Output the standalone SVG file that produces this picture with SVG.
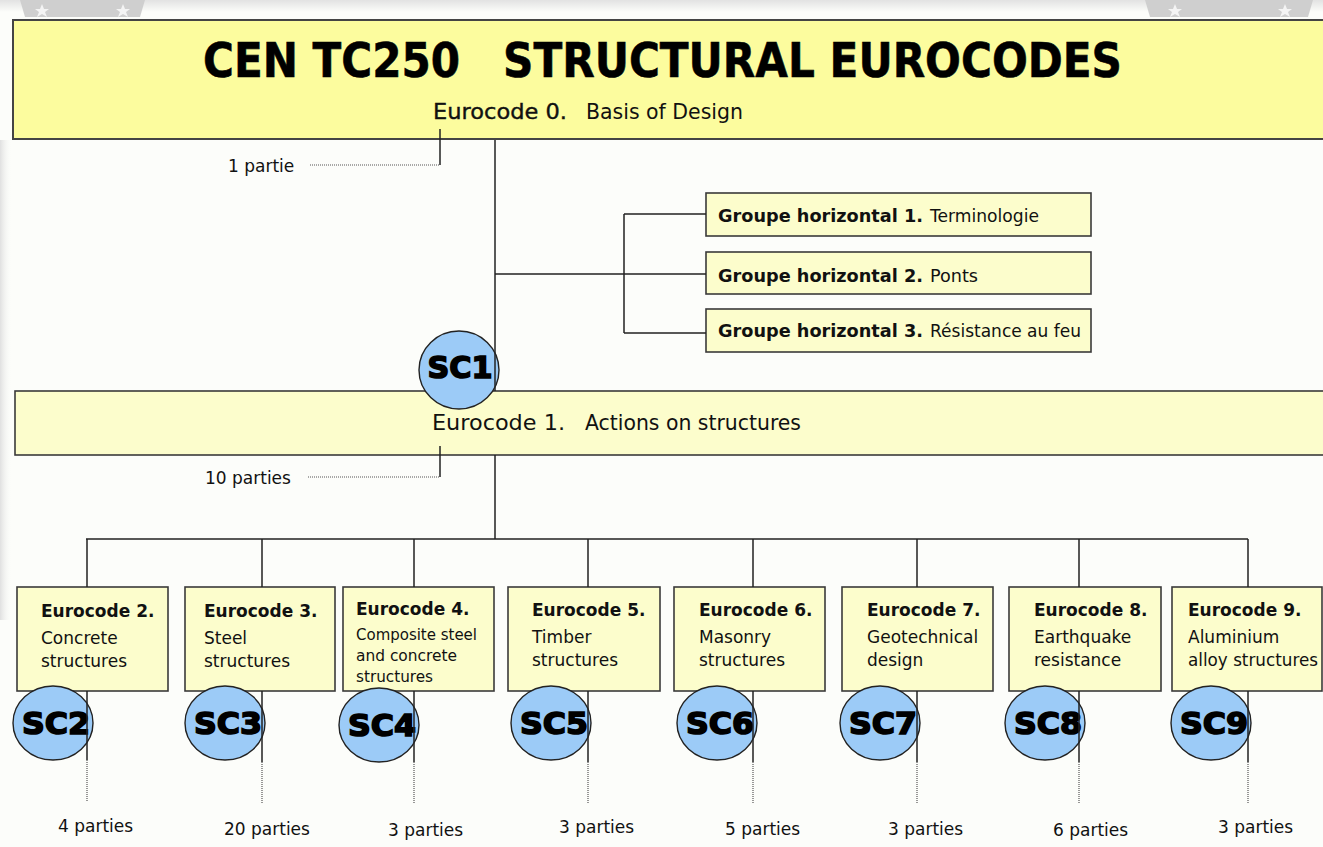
<svg xmlns="http://www.w3.org/2000/svg" width="1323" height="847" viewBox="0 0 1323 847">
<defs>
<linearGradient id="topfade" x1="0" y1="0" x2="0" y2="1">
<stop offset="0" stop-color="#e2e2e2"/>
<stop offset="1" stop-color="#fcfdfa"/>
</linearGradient>
<linearGradient id="leftfade" x1="0" y1="0" x2="1" y2="0">
<stop offset="0" stop-color="#e0e0e0"/>
<stop offset="1" stop-color="#fcfdfa" stop-opacity="0"/>
</linearGradient>
<style>
.box{fill:#fcfdcc;stroke:#3a3a3a;stroke-width:1.6}
.top{fill:#fcfc9e;stroke:#444;stroke-width:2}
.sc{fill:#9ccbf7;stroke:#222;stroke-width:1.4}
.sct{font-family:"DejaVu Sans",sans-serif;font-weight:bold;font-size:30px;fill:#000;stroke:#000;stroke-width:1.6;text-anchor:middle}
.b{font-family:"DejaVu Sans",sans-serif;font-weight:bold;font-size:17px;fill:#111}
.r{font-family:"DejaVu Sans",sans-serif;font-size:17px;fill:#111}
.s{font-family:"DejaVu Sans",sans-serif;font-size:16px;fill:#111}
.ln{fill:none;stroke:#222;stroke-width:1.5}
.dot{fill:none;stroke:#555;stroke-width:1.2;stroke-dasharray:1 1}
.deco{fill:#cfcfcf}
.star{fill:#f4f4f4}
</style>
</defs>
<rect x="0" y="0" width="1323" height="847" fill="#fcfdfa"/>
<rect x="0" y="0" width="1323" height="12" fill="url(#topfade)"/>
<rect x="0" y="140" width="12" height="480" fill="url(#leftfade)"/>
<polygon class="deco" points="20,0 145,0 140,17 25,17"/>
<polygon class="deco" points="1145,0 1313,0 1308,17 1150,17"/>
<polygon class="star" points="42,4 44,9 49,9 45,12 47,17 42,14 37,17 39,12 35,9 40,9"/>
<polygon class="star" points="123,4 125,9 130,9 126,12 128,17 123,14 118,17 120,12 116,9 121,9"/>
<polygon class="star" points="1175,4 1177,9 1182,9 1178,12 1180,17 1175,14 1170,17 1172,12 1168,9 1173,9"/>
<polygon class="star" points="1285,4 1287,9 1292,9 1288,12 1290,17 1285,14 1280,17 1282,12 1278,9 1283,9"/>

<g id="ec0">
<rect class="top" x="13" y="20" width="1320" height="119"/>
<text x="203" y="77" font-family="DejaVu Sans, sans-serif" font-weight="bold" font-size="48" fill="#000" stroke="#000" stroke-width="0.6" textLength="257" lengthAdjust="spacingAndGlyphs">CEN TC250</text>
<text x="503" y="77" font-family="DejaVu Sans, sans-serif" font-weight="bold" font-size="48" fill="#000" stroke="#000" stroke-width="0.6" textLength="619" lengthAdjust="spacingAndGlyphs">STRUCTURAL EUROCODES</text>
<text x="433" y="119" font-family="DejaVu Sans, sans-serif" font-size="22" fill="#111" stroke="#111" stroke-width="0.4" textLength="134" lengthAdjust="spacingAndGlyphs">Eurocode 0.</text>
<text x="586" y="119" font-family="DejaVu Sans, sans-serif" font-size="22" fill="#111" textLength="157" lengthAdjust="spacingAndGlyphs">Basis of Design</text>
</g>

<g id="ec1">
<rect class="box" x="15" y="391" width="1320" height="64"/>
<text x="432" y="430" font-family="DejaVu Sans, sans-serif" font-size="21" fill="#111" textLength="133" lengthAdjust="spacingAndGlyphs">Eurocode 1.</text>
<text x="585" y="430" font-family="DejaVu Sans, sans-serif" font-size="21" fill="#111" textLength="216" lengthAdjust="spacingAndGlyphs">Actions on structures</text>
</g>

<g id="hg1">
<rect class="box" x="706" y="193" width="385" height="43"/>
<text class="b" x="718" y="222" textLength="205" lengthAdjust="spacingAndGlyphs">Groupe horizontal 1.</text>
<text class="r" x="930" y="222" textLength="109" lengthAdjust="spacingAndGlyphs">Terminologie</text>
</g>
<g id="hg2">
<rect class="box" x="706" y="252" width="385" height="42"/>
<text class="b" x="718" y="282" textLength="205" lengthAdjust="spacingAndGlyphs">Groupe horizontal 2.</text>
<text class="r" x="930" y="282" textLength="48" lengthAdjust="spacingAndGlyphs">Ponts</text>
</g>
<g id="hg3">
<rect class="box" x="706" y="309" width="385" height="43"/>
<text class="b" x="718" y="337" textLength="205" lengthAdjust="spacingAndGlyphs">Groupe horizontal 3.</text>
<text class="r" x="930" y="337" textLength="151" lengthAdjust="spacingAndGlyphs">Résistance au feu</text>
</g>

<g id="sc1">
<ellipse class="sc" cx="459" cy="370" rx="40" ry="39"/>
<text class="sct" x="460" y="378" font-size="29" textLength="65" lengthAdjust="spacingAndGlyphs">SC1</text>
</g>

<g id="ec2">
<rect class="box" x="17" y="587" width="151" height="104"/>
<text class="b" x="41" y="617">Eurocode 2.</text>
<text class="r" x="41" y="644">Concrete</text>
<text class="r" x="41" y="667">structures</text>
</g>
<g id="ec3">
<rect class="box" x="185" y="587" width="150" height="104"/>
<text class="b" x="204" y="617">Eurocode 3.</text>
<text class="r" x="204" y="644">Steel</text>
<text class="r" x="204" y="667">structures</text>
</g>
<g id="ec4">
<rect class="box" x="343" y="587" width="151" height="104"/>
<text class="b" x="356" y="615">Eurocode 4.</text>
<text class="s" x="356" y="640" textLength="121" lengthAdjust="spacingAndGlyphs">Composite steel</text>
<text class="s" x="356" y="661" textLength="101" lengthAdjust="spacingAndGlyphs">and concrete</text>
<text class="s" x="356" y="682" textLength="77" lengthAdjust="spacingAndGlyphs">structures</text>
</g>
<g id="ec5">
<rect class="box" x="508" y="587" width="152" height="104"/>
<text class="b" x="532" y="616">Eurocode 5.</text>
<text class="r" x="532" y="643">Timber</text>
<text class="r" x="532" y="666">structures</text>
</g>
<g id="ec6">
<rect class="box" x="674" y="587" width="151" height="104"/>
<text class="b" x="699" y="616">Eurocode 6.</text>
<text class="r" x="699" y="643">Masonry</text>
<text class="r" x="699" y="666">structures</text>
</g>
<g id="ec7">
<rect class="box" x="842" y="587" width="151" height="104"/>
<text class="b" x="867" y="616">Eurocode 7.</text>
<text class="r" x="867" y="643">Geotechnical</text>
<text class="r" x="867" y="666">design</text>
</g>
<g id="ec8">
<rect class="box" x="1009" y="587" width="152" height="104"/>
<text class="b" x="1034" y="616">Eurocode 8.</text>
<text class="r" x="1034" y="643">Earthquake</text>
<text class="r" x="1034" y="666">resistance</text>
</g>
<g id="ec9">
<rect class="box" x="1172" y="587" width="150" height="104"/>
<text class="b" x="1188" y="616">Eurocode 9.</text>
<text class="r" x="1188" y="643">Aluminium</text>
<text class="r" x="1188" y="666" textLength="130" lengthAdjust="spacingAndGlyphs">alloy structures</text>
</g>

<g id="sc2"><ellipse class="sc" cx="53" cy="723" rx="40" ry="37"/><text class="sct" x="56" y="734" textLength="68" lengthAdjust="spacingAndGlyphs">SC2</text></g>
<g id="sc3"><ellipse class="sc" cx="225" cy="723" rx="40" ry="37"/><text class="sct" x="228" y="734" textLength="68" lengthAdjust="spacingAndGlyphs">SC3</text></g>
<g id="sc4"><ellipse class="sc" cx="379" cy="725" rx="40" ry="37"/><text class="sct" x="382" y="736" textLength="68" lengthAdjust="spacingAndGlyphs">SC4</text></g>
<g id="sc5"><ellipse class="sc" cx="551" cy="723" rx="40" ry="37"/><text class="sct" x="554" y="734" textLength="68" lengthAdjust="spacingAndGlyphs">SC5</text></g>
<g id="sc6"><ellipse class="sc" cx="717" cy="723" rx="40" ry="37"/><text class="sct" x="720" y="734" textLength="68" lengthAdjust="spacingAndGlyphs">SC6</text></g>
<g id="sc7"><ellipse class="sc" cx="880" cy="723" rx="40" ry="37"/><text class="sct" x="883" y="734" textLength="68" lengthAdjust="spacingAndGlyphs">SC7</text></g>
<g id="sc8"><ellipse class="sc" cx="1045" cy="723" rx="40" ry="37"/><text class="sct" x="1048" y="734" textLength="68" lengthAdjust="spacingAndGlyphs">SC8</text></g>
<g id="sc9"><ellipse class="sc" cx="1211" cy="723" rx="40" ry="37"/><text class="sct" x="1214" y="734" textLength="68" lengthAdjust="spacingAndGlyphs">SC9</text></g>

<g id="connectors">
<path class="ln" d="M440 129V165"/>
<path class="dot" d="M310 165H440"/>
<path class="ln" d="M495 140V391"/>
<path class="ln" d="M495 274H706M624 214V333M624 214H706M624 333H706"/>
<path class="ln" d="M440 446V477"/>
<path class="dot" d="M308 477H440"/>
<path class="ln" d="M495 455V539M86 539H1248"/>
<path class="ln" d="M87 539V587M262 539V587M414 539V587M588 539V587M753 539V587M917 539V587M1079 539V587M1248 539V587"/>
<path class="ln" d="M87 691V760M262 691V762M414 691V762M588 691V762M753 691V762M917 691V762M1079 691V762M1248 691V762"/>
<path class="dot" d="M87 760V802M262 762V804M414 762V804M588 762V804M753 762V804M917 762V804M1079 762V804M1248 762V804"/>
</g>

<g id="labels">
<text class="r" x="228" y="172">1 partie</text>
<text class="r" x="205" y="484">10 parties</text>
<text class="r" x="58" y="832">4 parties</text>
<text class="r" x="224" y="835">20 parties</text>
<text class="r" x="388" y="836">3 parties</text>
<text class="r" x="559" y="833">3 parties</text>
<text class="r" x="725" y="835">5 parties</text>
<text class="r" x="888" y="835">3 parties</text>
<text class="r" x="1053" y="836">6 parties</text>
<text class="r" x="1218" y="833">3 parties</text>
</g>
</svg>
